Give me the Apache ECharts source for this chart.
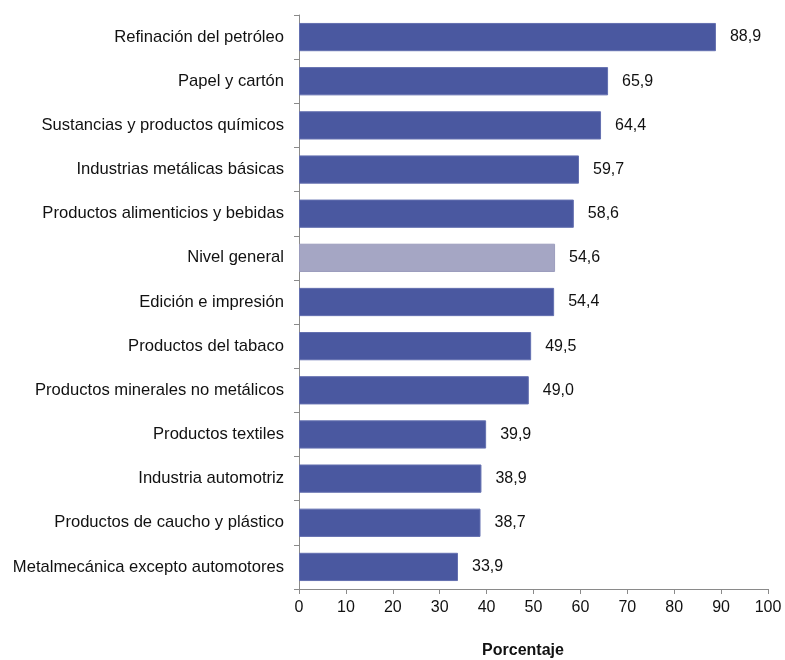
<!DOCTYPE html>
<html>
<head>
<meta charset="utf-8">
<script src="https://cdn.jsdelivr.net/npm/echarts@6/dist/echarts.min.js"></script>
<style>html,body{margin:0;padding:0;background:#fff}#c{width:785px;height:660px}</style>
</head>
<body>
<div id="c"></div>
<script>
var categories = [
  "Refinación del petróleo",
  "Papel y cartón",
  "Sustancias y productos químicos",
  "Industrias metálicas básicas",
  "Productos alimenticios y bebidas",
  "Nivel general",
  "Edición e impresión",
  "Productos del tabaco",
  "Productos minerales no metálicos",
  "Productos textiles",
  "Industria automotriz",
  "Productos de caucho y plástico",
  "Metalmecánica excepto automotores"
];
var values = [88.9, 65.9, 64.4, 59.7, 58.6, 54.6, 54.4, 49.5, 49.0, 39.9, 38.9, 38.7, 33.9];
var highlight = "Nivel general";
var axisTitle = "Porcentaje";

var chart = echarts.init(document.getElementById('c'));
var font = "'Liberation Sans', Arial, Helvetica, sans-serif";
chart.setOption({
  animation: false,
  grid: {left: 299, right: 17, top: 15, bottom: 71, containLabel: false},
  xAxis: {
    type: 'value', min: 0, max: 100, interval: 10,
    axisLine: {show: true, lineStyle: {color: '#8a8a8a', width: 1}},
    axisTick: {show: true, length: 5, lineStyle: {color: '#8a8a8a'}},
    splitLine: {show: false},
    axisLabel: {color: '#111', fontSize: 16, fontFamily: font, margin: 11}
  },
  yAxis: {
    type: 'category', data: categories, inverse: true,
    axisLine: {show: true, lineStyle: {color: '#8a8a8a', width: 1}},
    axisTick: {show: true, length: 5, lineStyle: {color: '#8a8a8a'}},
    axisLabel: {color: '#111', fontSize: 16.6, fontFamily: font, margin: 15}
  },
  graphic: [{
    type: 'text', x: 523, y: 651,
    style: {text: axisTitle, fill: '#111', font: "bold 16px " + font, align: 'center', verticalAlign: 'middle'}
  }],
  series: [{
    type: 'bar',
    barCategoryGap: '36%',
    data: values.map(function (v, i) {
      var hl = categories[i] === highlight;
      return {value: v, itemStyle: {color: hl ? '#a5a6c4' : '#4a58a0', borderColor: hl ? '#9c9dbd' : '#6470b0', borderWidth: 1}};
    }),
    label: {
      show: true, position: 'right', distance: 14, color: '#111', fontSize: 16, fontFamily: font,
      formatter: function (p) { return p.value.toFixed(1).replace('.', ','); }
    }
  }]
});
</script>
</body>
</html>
